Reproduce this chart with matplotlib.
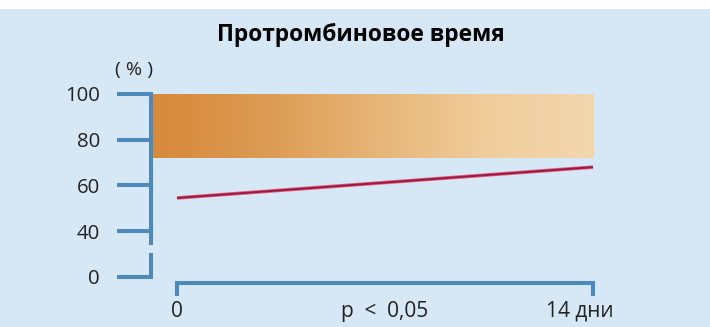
import numpy as np
import matplotlib.pyplot as plt
from matplotlib.colors import LinearSegmentedColormap
from matplotlib.patches import Rectangle

plt.rcParams['font.family'] = ['Open Sans', 'DejaVu Sans']

# data
days = [0, 14]
ptt_values = [54.5, 68]          # prothrombin time, %
norm_low, norm_high = 72, 100     # normal range band
ytick_pos = [20, 40, 60, 80, 100]  # axis is broken: "0" sits where 20 would be
ytick_labels = ['0', '40', '60', '80', '100']

bg = '#d6e7f6'
axis_col = '#4d89b9'
txt_col = '#222222'

fig = plt.figure(figsize=(7.1, 3.27), dpi=100, facecolor=bg)
fig.patches.append(Rectangle((0, 1 - 9 / 327), 1, 9 / 327, transform=fig.transFigure,
                             facecolor='white', edgecolor='none', zorder=0))

W, H = 710, 327
left_px, right_px = 150.5, 630
top_px, bot_px = 91.7, 282.5
ax = fig.add_axes([left_px / W, 1 - bot_px / H, (right_px - left_px) / W, (bot_px - top_px) / H])
ax.set_facecolor('none')

px_day = (593 - 177) / 14
ax.set_xlim((left_px - 177) / px_day, (right_px - 177) / px_day)
px_val = 45.7 / 20
ax.set_ylim(100 - (bot_px - 94) / px_val, 100 + (94 - top_px) / px_val)

# normal range gradient band
cmap = LinearSegmentedColormap.from_list('band', ['#d7893a', '#dc9a52', '#e6b476', '#f0cc9a', '#f3d7b0'])
grad = np.linspace(0, 1, 256).reshape(1, -1)
x0 = ax.get_xlim()[0]
ax.imshow(grad, aspect='auto', cmap=cmap, extent=[x0, days[-1], norm_low, norm_high],
          zorder=1, interpolation='bilinear')

# patient line
ax.plot(days, ptt_values, color='#e2607f', lw=2.6, solid_capstyle='butt', zorder=3)
ax.plot(days, ptt_values, color='#9a1b42', lw=1.4, solid_capstyle='butt', zorder=4)

# axes styling
for s in ['top', 'right', 'left']:
    ax.spines[s].set_visible(False)
ax.spines['bottom'].set_bounds(0, 14)
ax.spines['bottom'].set_color(axis_col)
ax.spines['bottom'].set_linewidth(2.9)

# broken left axis
ytr = ax.get_yaxis_transform()
ax.plot([0, 0], [100, 34.8], color=axis_col, lw=2.9, transform=ytr, clip_on=False,
        solid_capstyle='projecting')
ax.plot([0, 0], [29.5, 20], color=axis_col, lw=2.9, transform=ytr, clip_on=False,
        solid_capstyle='projecting')

ax.set_yticks(ytick_pos)
ax.set_yticklabels(ytick_labels)
ax.tick_params(axis='y', length=24.5, width=2.9, color=axis_col, pad=12,
               labelsize=14.7, labelcolor=txt_col)

ax.set_xticks(days)
ax.set_xticklabels(['0', ''])
ax.tick_params(axis='x', length=9.5, width=2.9, color=axis_col, pad=4,
               labelsize=15, labelcolor=txt_col)

xtr = ax.get_xaxis_transform()
lbl_y = -(311 - bot_px) / (bot_px - top_px)
ax.text(7, lbl_y, 'p  <  0,05', transform=xtr,
        ha='center', va='center', fontsize=15, color=txt_col)
ax.text(13.55, lbl_y, '14 дни', transform=xtr,
        ha='center', va='center', fontsize=15, color=txt_col)

fig.text(134 / W, 1 - 70 / H, '( % )', ha='center', va='center', fontsize=14, color=txt_col)
fig.text(361 / W, 1 - 35 / H, 'Протромбиновое время', ha='center', va='center',
         fontsize=16.4, fontweight='bold', color='black')

fig.savefig('out.png', dpi=100, facecolor=bg)
